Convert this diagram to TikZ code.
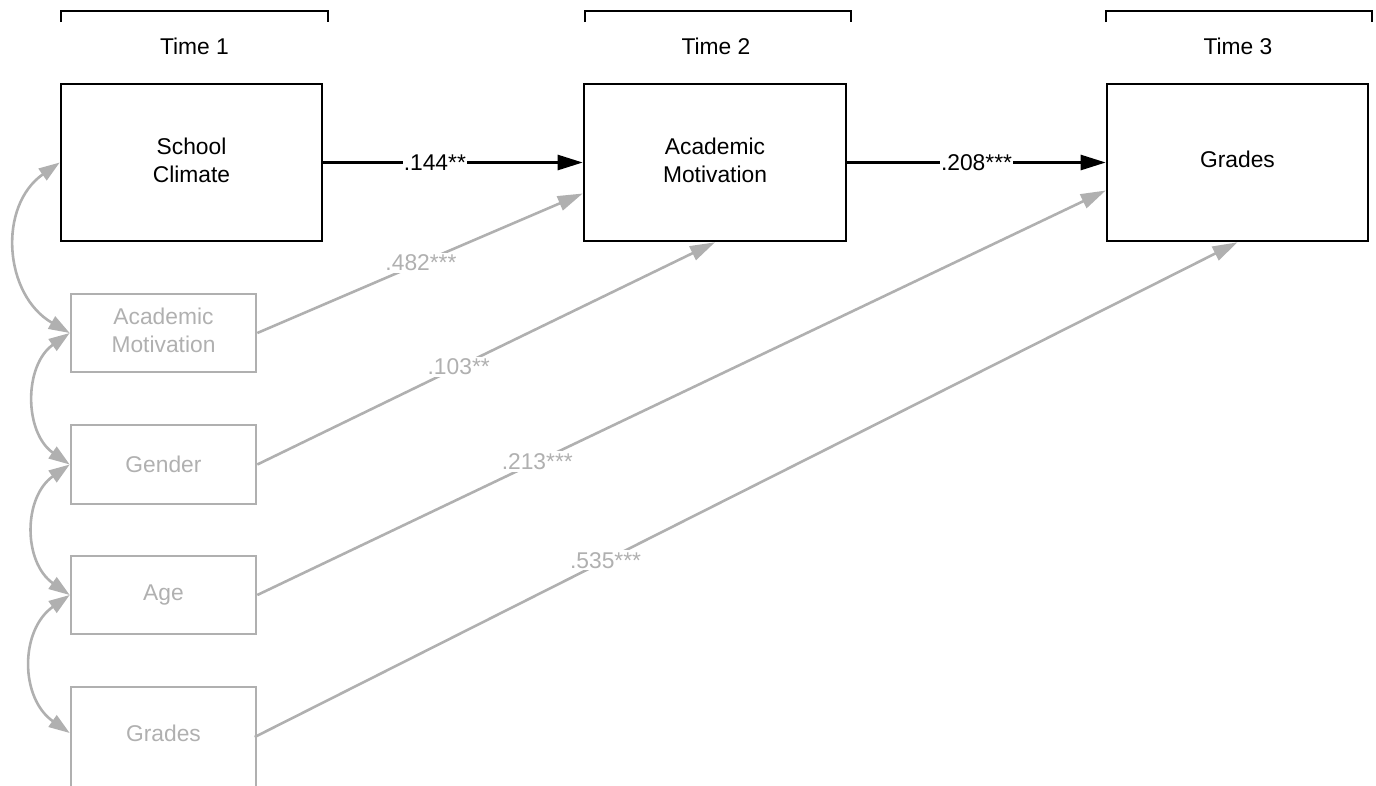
\documentclass[tikz,border=0pt]{standalone}
\usepackage{fontspec}
\setmainfont{Liberation Sans}
\usetikzlibrary{arrows.meta,calc}
\definecolor{lg}{HTML}{B0B0B0}
\begin{document}
\begin{tikzpicture}[x=1pt,y=1pt,
  txt/.style={font=\fontsize{22.8}{28}\selectfont, align=center, inner sep=0pt},
  bbox/.style={txt, draw=black, line width=2.6pt, minimum width=261pt, minimum height=157pt},
  gbox/.style={txt, draw=lg, text=lg, line width=2.6pt, minimum width=185pt, minimum height=78pt},
  bline/.style={draw=black, line width=2.6pt, -{Triangle[length=25pt,width=15pt]}},
  gline/.style={draw=lg, line width=2.6pt, -{Triangle[length=25pt,width=15pt]}},
  cline/.style={draw=lg, line width=2.6pt, {Triangle[length=21pt,width=14pt]}-{Triangle[length=21pt,width=14pt]}},
  blab/.style={txt, fill=white, inner xsep=1pt, inner ysep=2pt},
  glab/.style={txt, fill=white, text=lg, inner xsep=1pt, inner ysep=2pt},
  bracket/.style={draw=black, line width=2.6pt}
]
\clip (0,0) rectangle (1376,-785);
\useasboundingbox (0,0) rectangle (1376,-785);

% brackets
\draw[bracket] (61,-22) -- (61,-11) -- (328,-11) -- (328,-22);
\draw[bracket] (585,-22) -- (585,-11) -- (851,-11) -- (851,-22);
\draw[bracket] (1106,-22) -- (1106,-11) -- (1372,-11) -- (1372,-22);
\node[txt] (t1) at (194.5,-46) {Time 1};
\node[txt] (t2) at (716,-46) {Time 2};
\node[txt] (t3) at (1238,-46) {Time 3};

% main boxes
\node[bbox] (sc) at (191.5,-162.5) {School\\Climate\\[-23pt]};
\node[bbox, minimum width=262pt] (am2) at (715,-162.5) {Academic\\Motivation\\[-23pt]};
\node[bbox] (gr3) at (1237.5,-162.5) {Grades\\[-22pt]};

% gray boxes
\node[gbox] (am1) at (163.5,-333) {Academic\\Motivation\\[-22pt]};
\node[gbox, minimum height=79pt] (ge) at (163.5,-464.5) {Gender};
\node[gbox] (ag) at (163.5,-595) {Age};
\node[gbox, minimum height=110pt] (gr1) at (163.5,-742) {};
\node[txt, text=lg] (gr1t) at (163.5,-733) {Grades};

% black paths
\draw[bline] (sc.east) -- node[blab, pos=0.43] {.144**} (am2.west);
\draw[bline] (am2.east) -- node[blab, pos=0.5] {.208***} (gr3.west);

% gray paths
\draw[gline] (am1.east) -- node[glab, pos=0.503] {.482***} ($(am2.west)+(0,-31)$);
\draw[gline] (ge.east) -- node[glab, pos=0.44] {.103**} (am2.south);
\draw[gline] (ag.east) -- node[glab, pos=0.33] {.213***} ($(gr3.west)+(0,-28)$);
\draw[gline] ($(gr1.west)+(185,5)$) coordinate (gr1e) -- node[glab, pos=0.357] {.535***} (gr3.south);

% correlations
\draw[cline] (sc.west) .. controls +(215:76) and +(150:76) .. (am1.west);
\draw[cline] (am1.west) .. controls +(215:56) and +(145:56) .. (ge.west);
\draw[cline] (ge.west) .. controls +(215:57) and +(145:57) .. (ag.west);
\draw[cline] (ag.west) .. controls +(215:61) and +(145:61) .. ($(gr1.west)+(0,9)$);
\end{tikzpicture}
\end{document}
